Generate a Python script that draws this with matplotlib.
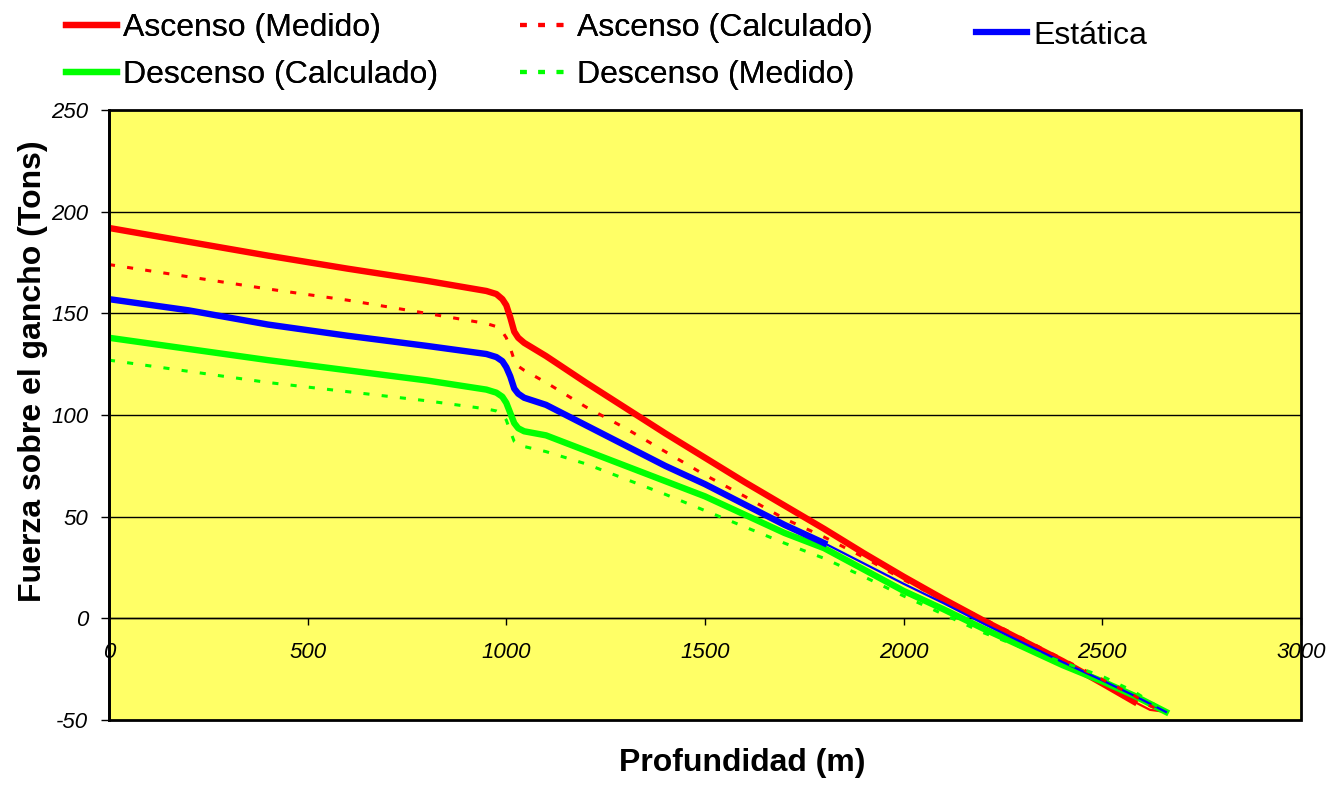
import matplotlib.pyplot as plt
from matplotlib.lines import Line2D
from matplotlib.patches import Rectangle
import numpy as np

plt.rcParams['font.family'] = ['Liberation Sans', 'DejaVu Sans']

# profundidad (m)
depth = [0, 200, 400, 600, 800, 950, 975, 990, 1000, 1010, 1020, 1030, 1045,
         1100, 1200, 1300, 1400, 1500, 1600, 1700, 1800, 1900, 2000, 2100,
         2200, 2300, 2400, 2500, 2580, 2620, 2660]

# fuerza sobre el gancho (Tons)
asc_medido = [192, 185.2, 178.4, 172, 166, 161, 159.5, 157, 154, 148, 141, 138, 135.5,
              129, 116, 103.5, 91, 79, 67, 55.5, 44, 32, 20.5, 9.5,
              -1, -11, -21, -32, -41, -45, -46]
asc_calculado = [174, 168, 162, 156.5, 150, 145, 143.5, 141, 138, 133, 127, 124, 122,
                 116, 104, 93.5, 82, 70.5, 60, 49, 40, 30, 19, 9,
                 0, -10, -20, -30, -38, -43, -46]
estatica = [157, 151.5, 144.5, 139, 134, 130, 128.5, 126.5, 123.5, 119, 113, 110.5, 108.5,
            105, 95, 85, 75, 66, 56, 46, 37, 27, 17, 7.5,
            -2.5, -12, -21.5, -30.5, -38, -42, -46]
desc_calculado = [138, 132.5, 127, 122, 117, 112.5, 111, 109, 106, 101, 96, 93.5, 92,
                  90, 82.5, 75, 67.5, 60, 51, 42, 34.5, 24, 13.5, 4.5,
                  -5, -14, -23, -31, -38, -42, -46]
desc_medido = [127, 121.5, 116, 111.5, 107, 103, 102, 100.5, 97.5, 92, 87, 85.5, 84.5,
               82, 76, 68.5, 61, 53, 45, 37, 29.5, 20.5, 11, 2,
               -7, -14.5, -21.5, -28.5, -36, -41, -46]

x_ticks = [0, 500, 1000, 1500, 2000, 2500, 3000]
y_ticks = [-50, 0, 50, 100, 150, 200, 250]

RED, GREEN, BLUE = '#ff0000', '#00ff00', '#0000ff'
BG = '#ffff66'

d = np.array(depth)
fig = plt.figure(figsize=(13.27, 7.87), dpi=100)
ax = fig.add_axes([0.0821, 0.0851, 0.9804 - 0.0821, 0.8602 - 0.0851])
ax.set_facecolor(BG)

thick, thin = 4.6, 1.6
i_blue = depth.index(1800)
i_red = depth.index(2580)

ax.plot(d[:i_red + 1], asc_medido[:i_red + 1], color=RED, lw=thick, zorder=3)
ax.plot(d[i_red:], asc_medido[i_red:], color=RED, lw=thin, zorder=3)
ax.plot(d, asc_calculado, color=RED, lw=2.2, dashes=(2, 4), zorder=4)
ax.plot(d, desc_calculado, color=GREEN, lw=thick, zorder=3)
ax.plot(d, desc_medido, color=GREEN, lw=2.2, dashes=(2, 4), zorder=4)
ax.plot(d[:i_blue + 1], estatica[:i_blue + 1], color=BLUE, lw=thick, zorder=3)
ax.plot(d[i_blue:], estatica[i_blue:], color=BLUE, lw=thin, zorder=3)

for y in y_ticks[1:-1]:
    ax.axhline(y, color='black', lw=1.0, zorder=1)

ax.spines['bottom'].set_position(('data', 0))
ax.spines['bottom'].set_linewidth(1.0)
for s in ['top', 'right']:
    ax.spines[s].set_visible(False)
ax.spines['left'].set_linewidth(2)
ax.add_patch(Rectangle((0, 0), 1, 1, transform=ax.transAxes, fill=False,
                       edgecolor='black', lw=2, clip_on=False, zorder=5))

ax.set_xlim(0, 3000)
ax.set_ylim(-50, 250)
ax.set_xticks(x_ticks)
ax.set_yticks(y_ticks)
ax.set_xticklabels([str(v) for v in x_ticks], fontsize=16, fontstyle='italic')
ax.set_yticklabels([str(v) for v in y_ticks], fontsize=16, fontstyle='italic')
ax.tick_params(axis='x', direction='out', length=5, width=1, pad=12)
ax.tick_params(axis='y', direction='out', length=6, width=1, pad=9)

ax.set_xlabel('Profundidad (m)', fontsize=23, fontweight='bold')
ax.set_ylabel('Fuerza sobre el gancho (Tons)', fontsize=23, fontweight='bold')
ax.xaxis.set_label_coords(0.531, -0.046)
ax.yaxis.set_label_coords(-0.051, 0.572)

handles = [
    Line2D([], [], color=RED, lw=4.5),
    Line2D([], [], color=GREEN, lw=4.5),
    Line2D([], [], color=RED, lw=3, dashes=(1.6, 2.8)),
    Line2D([], [], color=GREEN, lw=3, dashes=(1.6, 2.8)),
]
labels = ['Ascenso (Medido)', 'Descenso (Calculado)', 'Ascenso (Calculado)',
          'Descenso (Medido)']
leg = fig.legend(handles, labels, ncol=2, loc='upper left', bbox_to_anchor=(0.04, 1.0),
                 frameon=False, fontsize=23, handlelength=1.6, handletextpad=0.2,
                 columnspacing=2.55, labelspacing=0.55, borderaxespad=0)
fig.add_artist(leg)
fig.legend([Line2D([], [], color=BLUE, lw=4.5)], ['Estática'], loc='upper left',
           bbox_to_anchor=(0.726, 0.99), frameon=False, fontsize=23,
           handlelength=1.6, handletextpad=0.2, borderaxespad=0)

fig.savefig('out.png', dpi=100)
